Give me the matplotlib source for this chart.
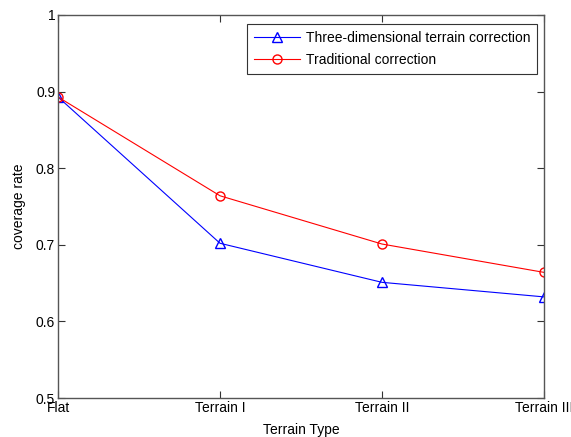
import matplotlib
matplotlib.use("Agg")
import matplotlib.pyplot as plt

categories = ["Flat", "Terrain I", "Terrain II", "Terrain III"]
three_d = [0.893, 0.702, 0.651, 0.632]
traditional = [0.893, 0.764, 0.701, 0.664]
yticks = [0.5, 0.6, 0.7, 0.8, 0.9, 1.0]
yticklabels = ["0.5", "0.6", "0.7", "0.8", "0.9", "1"]

plt.rcParams['font.family'] = ['Liberation Sans', 'DejaVu Sans']
fig = plt.figure(figsize=(5.71, 4.37), dpi=100)
ax = fig.add_axes([58/571, 1-398/437, (544-58)/571, (398-15)/437])

x = list(range(len(categories)))
ax.plot(x, three_d, color='blue', marker='^', markersize=6.5, markerfacecolor='none',
        markeredgecolor='blue', linewidth=0.8, label='Three-dimensional terrain correction')
ax.plot(x, traditional, color='red', marker='o', markersize=6.5, markerfacecolor='none',
        markeredgecolor='red', linewidth=0.8, label='Traditional correction')

ax.set_xlim(0, 3)
ax.set_ylim(0.5, 1.0)
ax.set_xticks(x)
ax.set_xticklabels(categories, fontsize=10)
ax.set_yticks(yticks)
ax.set_yticklabels(yticklabels, fontsize=10)
ax.tick_params(direction='in', top=True, right=True, length=5, width=0.8, colors='#333333', labelcolor='black', pad=2)
for s in ax.spines.values():
    s.set_color('#555555')
    s.set_linewidth(1.0)

ax.set_xlabel('Terrain Type', fontsize=10, labelpad=6)
ax.set_ylabel('coverage rate', fontsize=10, labelpad=7)

leg = ax.legend(loc='upper right', fontsize=10, fancybox=False, framealpha=1,
                edgecolor='#333333', borderpad=0.5, handlelength=3.3, labelspacing=0.6,
                handletextpad=0.4, borderaxespad=0, bbox_to_anchor=(0.9856, 0.9765))
leg.get_frame().set_linewidth(0.8)

fig.savefig('out.png', dpi=100)
